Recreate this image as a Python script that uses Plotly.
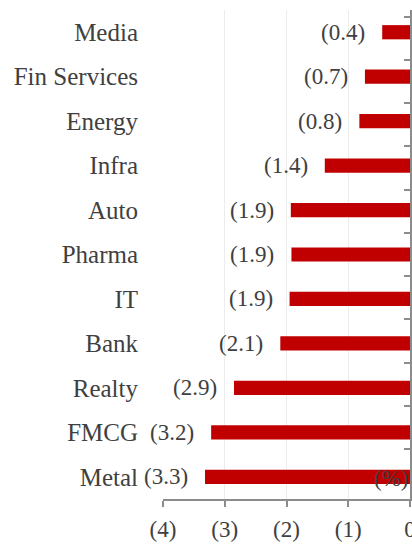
import plotly.graph_objects as go

sectors = ['Media', 'Fin Services', 'Energy', 'Infra', 'Auto', 'Pharma', 'IT',
           'Bank', 'Realty', 'FMCG', 'Metal']
returns = [-0.45, -0.73, -0.82, -1.38, -1.93, -1.92, -1.95, -2.1, -2.85, -3.22, -3.32]
labels = ['(0.4)', '(0.7)', '(0.8)', '(1.4)', '(1.9)', '(1.9)', '(1.9)',
          '(2.1)', '(2.9)', '(3.2)', '(3.3)']
x_ticks = [-4, -3, -2, -1, 0]
x_tick_text = ['(4)', '(3)', '(2)', '(1)', '0']

FONT = 'Liberation Serif'
TXT = '#404040'
AXIS = '#8c8c8c'

fig = go.Figure()
fig.add_trace(go.Bar(x=returns, y=sectors, orientation='h', width=0.32,
                     marker=dict(color='#c00000', line_width=0), hoverinfo='skip'))
# invisible trace so the right-hand axis gets its category ticks
fig.add_trace(go.Scatter(x=[0] * len(sectors), y=sectors, yaxis='y2', mode='markers',
                         marker=dict(opacity=0), hoverinfo='skip', showlegend=False))

for s, v, t in zip(sectors, returns, labels):
    fig.add_annotation(x=v, y=s, text=t, showarrow=False, xanchor='right', xshift=-15,
                       font=dict(family=FONT, size=23, color=TXT))
fig.add_annotation(x=0, y='Metal', text='(%)', showarrow=False, xanchor='right', yshift=-2,
                   font=dict(family=FONT, size=23, color=TXT))

fig.update_layout(
    width=412, height=545, showlegend=False,
    margin=dict(l=163, r=2, t=10, b=46),
    plot_bgcolor='white', paper_bgcolor='white',
    font=dict(family=FONT, size=25, color=TXT),
    xaxis=dict(range=[-4, 0], tickvals=x_ticks, ticktext=x_tick_text, automargin=False,
               tickfont=dict(size=23), ticklabeloverflow='allow',
               showgrid=True, gridcolor='#ececec', gridwidth=1, zeroline=False,
               showline=True, linecolor=AXIS, linewidth=1.5,
               ticks='outside', ticklen=6, tickcolor=AXIS, tickwidth=1.5,
               ticklabelstandoff=3),
    yaxis=dict(type='category', autorange='reversed', showgrid=False, zeroline=False,
               showline=False, ticks='', ticklabelstandoff=24, automargin=False),
    yaxis2=dict(type='category', overlaying='y', side='right', autorange='reversed',
                categoryorder='array', categoryarray=sectors, automargin=False,
                showgrid=False, zeroline=False, showline=True, linecolor=AXIS, linewidth=1.5,
                ticks='inside', ticklen=6, tickcolor=AXIS, tickwidth=1.5,
                tickson='boundaries', showticklabels=False),
)

fig.write_html('out.html', config={'displayModeBar': False},
               post_script="document.body.style.margin='0';")
